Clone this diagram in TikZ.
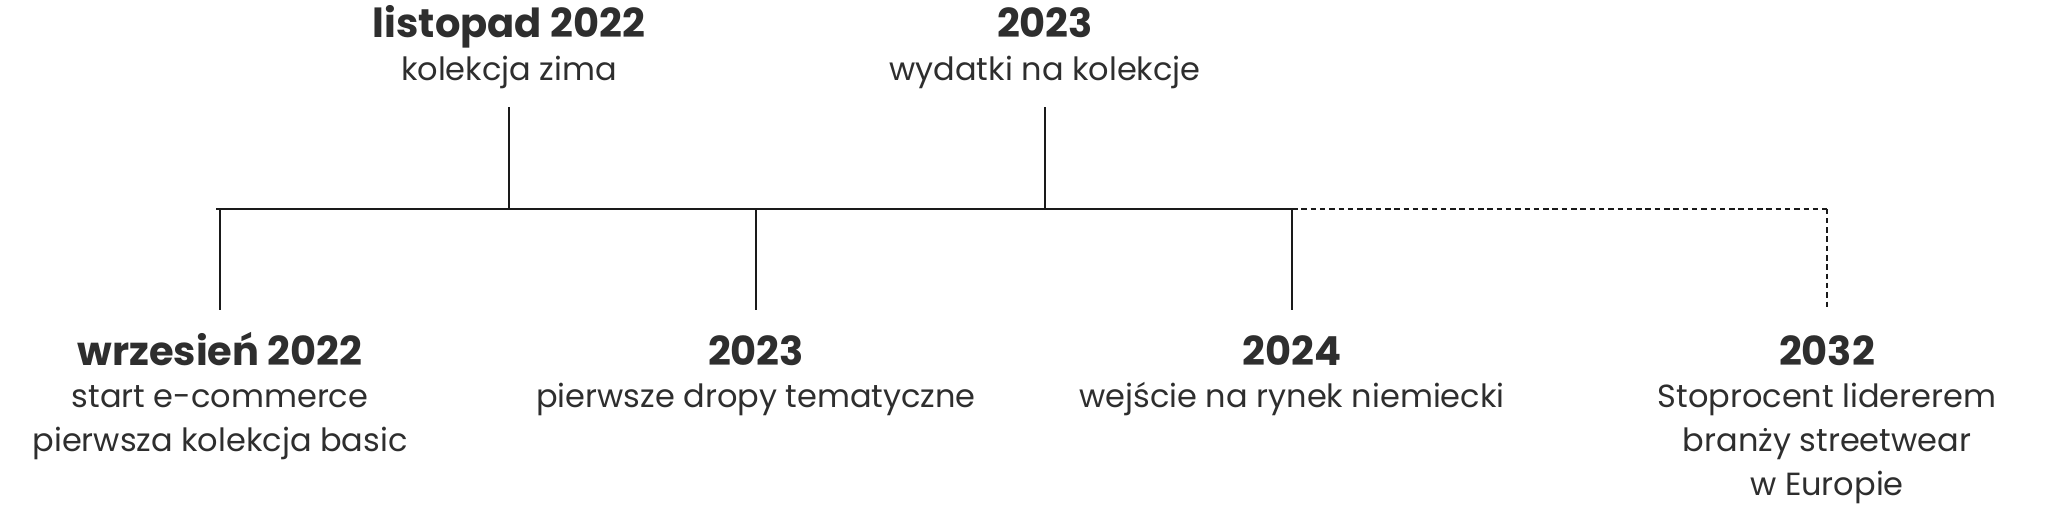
\documentclass[tikz,border=0pt]{standalone}
\usepackage{fontspec}
\setmainfont{Poppins}
\definecolor{txt}{HTML}{2E2E2E}
\definecolor{ln}{HTML}{1A1A1A}
\tikzset{
  ttl/.style={inner sep=0pt, text=txt, font=\fontsize{40}{44}\selectfont\bfseries, anchor=base},
  sub/.style={inner sep=0pt, text=txt, font=\fontsize{32}{44.4}\selectfont, align=center, anchor=north},
  tick/.style={draw=ln, line width=2pt},
  fut/.style={draw=ln, line width=2pt, dash pattern=on 5.5pt off 3.8pt},
}
\begin{document}
\begin{tikzpicture}[x=1pt,y=-1pt]
\useasboundingbox[fill=white] (0,0) rectangle (2048,504);
% axis coordinates
\coordinate (a0) at (216,208.5);
\coordinate (a1) at (509,208.5);
\coordinate (a2) at (756,208.5);
\coordinate (a3) at (1045,208.5);
\coordinate (a4) at (1292,208.5);
\coordinate (a5) at (1827,208.5);
% tick ends
\coordinate (u1) at (509,107);
\coordinate (u3) at (1045,107);
\coordinate (d0) at (220,310);
\coordinate (d2) at (756,310);
\coordinate (d4) at (1292,310);
\coordinate (d5) at (1827,310);
% lines
\draw[tick] (a0) -- (a4);
\draw[fut] (a4) -- (a5);
\draw[tick] (u1) -- (a1);
\draw[tick] (u3) -- (a3);
\draw[tick] (d0 |- a0) -- (d0);
\draw[tick] (a2) -- (d2);
\draw[tick] (a4) -- (d4);
\draw[fut] (a5) -- (d5);
% top labels
\node[ttl] (t1) at (509,37) {listopad 2022};
\node[sub] (s1) at (509,48.9) {\strut kolekcja zima};
\node[ttl] (t3) at (1045,37) {2023};
\node[sub] (s3) at (1045,48.9) {\strut wydatki na kolekcje};
% bottom labels
\node[ttl] (t0) at (220,365) {wrzesień 2022};
\node[sub] (s0) at (220,375.9) {\strut start e-commerce\\pierwsza kolekcja basic};
\node[ttl] (t2) at (756,365) {2023};
\node[sub] (s2) at (756,375.9) {\strut pierwsze dropy tematyczne};
\node[ttl] (t4) at (1292,365) {2024};
\node[sub] (s4) at (1292,375.9) {\strut wejście na rynek niemiecki};
\node[ttl] (t5) at (1827,365) {2032};
\node[sub] (s5) at (1827,375.9) {\strut Stoprocent lidererem\\branży streetwear\\w Europie};
\end{tikzpicture}
\end{document}
